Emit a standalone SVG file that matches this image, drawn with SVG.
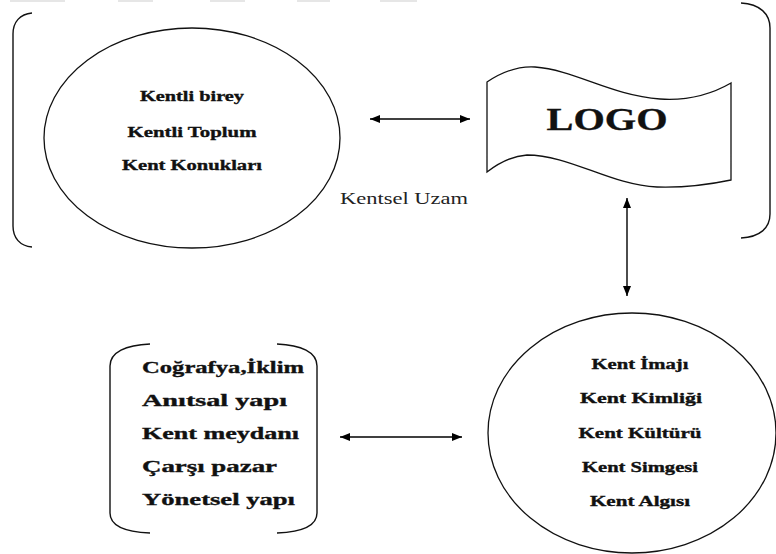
<svg xmlns="http://www.w3.org/2000/svg" width="776" height="554" viewBox="0 0 776 554">
  <defs>
    <marker id="head" viewBox="0 0 10 8" refX="10" refY="4" markerWidth="10" markerHeight="8" markerUnits="userSpaceOnUse" orient="auto-start-reverse">
      <path d="M0,0 L10,4 L0,8 Z" fill="#000"/>
    </marker>
  </defs>
  <style>
    .line { fill: none; stroke: #111; stroke-width: 1.4; }
    .shape { fill: #fff; stroke: #111; stroke-width: 1.3; }
    .conn { fill: none; stroke: #000; stroke-width: 1.4; marker-start: url(#head); marker-end: url(#head); }
    .smudge { fill: #e6e6e6; }
    text { font-family: 'Liberation Serif', 'Times New Roman', 'DejaVu Serif', serif; }
    .bold { font-weight: bold; fill: #111; stroke: #111; stroke-width: 0.35; }
  </style>
  <rect width="776" height="554" fill="#fff"/>

  <!-- faint marks along the top edge -->
  <g id="top-marks">
    <rect class="smudge" x="10" y="0" width="55" height="2"/>
    <rect class="smudge" x="118" y="0" width="35" height="2"/>
    <rect class="smudge" x="210" y="0" width="35" height="2"/>
    <rect class="smudge" x="297" y="0" width="33" height="2"/>
    <rect class="smudge" x="380" y="0" width="37" height="2"/>
  </g>

  <!-- urban space brackets -->
  <g id="kentsel-uzam">
    <path class="line" d="M32,13 C20,14 13,22 13,34 L13,226 C13,238 20,246 32,247"/>
    <path class="line" d="M741,3 C760,4 770,14 770,28 L770,214 C770,228 760,237 741,238"/>
    <text x="340" y="204" font-size="16" fill="#222" textLength="128" lengthAdjust="spacingAndGlyphs">Kentsel Uzam</text>
  </g>

  <!-- citizens ellipse -->
  <g id="kentli">
    <ellipse class="shape" cx="192" cy="138" rx="148" ry="110"/>
    <g class="bold" font-size="15" text-anchor="middle">
      <text x="192" y="101" textLength="104" lengthAdjust="spacingAndGlyphs">Kentli birey</text>
      <text x="192" y="137" textLength="129" lengthAdjust="spacingAndGlyphs">Kentli Toplum</text>
      <text x="192" y="170" textLength="140" lengthAdjust="spacingAndGlyphs">Kent Konukları</text>
    </g>
  </g>

  <!-- logo flag -->
  <g id="logo">
    <path class="shape" d="M487,82 C505,70 520,66 535,67 C575,70 610,95 660,99 C690,101 712,94 731,83 L731,180 C712,184 690,188 657,187 C610,185 570,155 527,155 C512,156 500,162 487,172 Z"/>
    <text class="bold" x="607" y="130" font-size="32" text-anchor="middle" textLength="121" lengthAdjust="spacingAndGlyphs">LOGO</text>
  </g>

  <!-- physical elements list -->
  <g id="unsurlar">
    <path class="line" d="M150,344 C126,345 110,352 110,366 L110,513 C110,526 126,532 150,533"/>
    <path class="line" d="M277,344 C301,345 317,352 317,366 L317,513 C317,526 301,532 277,533"/>
    <g class="bold" font-size="17">
      <text x="142" y="373" textLength="162" lengthAdjust="spacingAndGlyphs">Coğrafya,İklim</text>
      <text x="142" y="406" textLength="145" lengthAdjust="spacingAndGlyphs">Anıtsal yapı</text>
      <text x="142" y="439" textLength="157" lengthAdjust="spacingAndGlyphs">Kent meydanı</text>
      <text x="142" y="472" textLength="135" lengthAdjust="spacingAndGlyphs">Çarşı pazar</text>
      <text x="142" y="505" textLength="153" lengthAdjust="spacingAndGlyphs">Yönetsel yapı</text>
    </g>
  </g>

  <!-- city image ellipse -->
  <g id="kent">
    <ellipse class="shape" cx="632" cy="433" rx="144" ry="120"/>
    <g class="bold" font-size="15" text-anchor="middle">
      <text x="640" y="369" textLength="97" lengthAdjust="spacingAndGlyphs">Kent İmajı</text>
      <text x="641" y="403" textLength="122" lengthAdjust="spacingAndGlyphs">Kent Kimliği</text>
      <text x="640" y="438" textLength="123" lengthAdjust="spacingAndGlyphs">Kent Kültürü</text>
      <text x="640" y="472" textLength="116" lengthAdjust="spacingAndGlyphs">Kent Simgesi</text>
      <text x="640" y="506" textLength="100" lengthAdjust="spacingAndGlyphs">Kent Algısı</text>
    </g>
  </g>

  <!-- connectors -->
  <g id="connectors">
    <line class="conn" x1="370" y1="119" x2="470" y2="119"/>
    <line class="conn" x1="627" y1="198" x2="627" y2="296"/>
    <line class="conn" x1="340" y1="437" x2="462" y2="437"/>
  </g>
</svg>
